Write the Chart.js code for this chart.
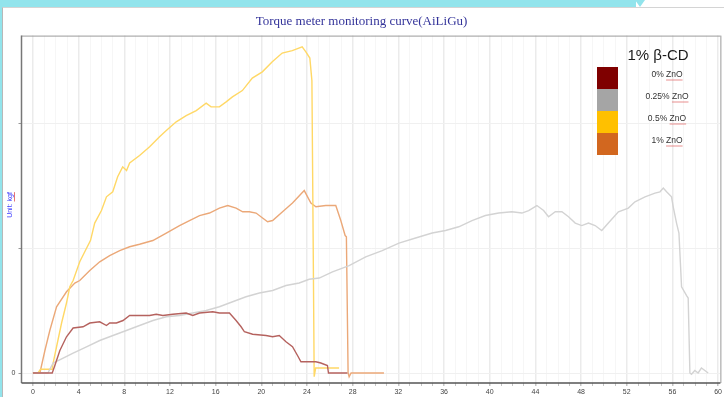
<!DOCTYPE html>
<html>
<head>
<meta charset="utf-8">
<title>Torque meter monitoring curve</title>
<script src="https://cdn.jsdelivr.net/npm/chart.js@4.4.1/dist/chart.umd.min.js"></script>
<style>
  html, body { margin: 0; padding: 0; width: 724px; height: 397px; overflow: hidden; background: #fff; }
  #frame-top { position: absolute; left: 0; top: 0; width: 636px; height: 7px; background: #92e4ec; }
  #frame-tri { position: absolute; left: 635px; top: 0; width: 0; height: 0;
               border-left: 5px solid transparent; border-right: 5px solid transparent; border-top: 7px solid #92e4ec; }
  #frame-left { position: absolute; left: 0; top: 0; width: 2px; height: 397px; background: #92e4ec; }
  #panel { position: absolute; left: 2px; top: 7px; right: 0; bottom: 0; background: #fff;
           border-left: 1px solid #b8b8b8; border-top: 1px solid #d4d4d4; }
  #chart { position: absolute; left: 0; top: 0; }
</style>
</head>
<body>
<div id="frame-top"></div>
<div id="frame-tri"></div>
<div id="frame-left"></div>
<div id="panel"></div>
<canvas id="chart" width="724" height="397"></canvas>
<script>
// ---- text ----
const chartTitle = 'Torque meter monitoring curve(AiLiGu)';
const yUnitLabel = 'Unit: kgf';
const legendTitle = '1% β-CD';
const seriesNames = ['0% ZnO', '0.25% ZnO', '0.5% ZnO', '1% ZnO'];

// ---- tick labels ----
const xTickValues = [0, 4, 8, 12, 16, 20, 24, 28, 32, 36, 40, 44, 48, 52, 56, 60];
const yTickValues = [0, 10, 20];
const yTickLabels = ['0', '', ''];

// ---- series: time (x) and torque (y) ----
const zno0X = [0,1.69,1.92,2.36,2.94,3.52,4.39,4.98,5.85,6.44,6.72,7.31,7.89,8.47,9.34,10.22,10.8,11.38,12.25,13.42,14.0,14.59,15.75,16.33,17.21,17.79,18.23,18.52,19.24,20.41,20.99,21.57,22.16,22.73,23.17,23.47,24.78,25.21,25.79,25.88,27.54];
const zno0Y = [0,0,0.6,1.8,2.9,3.6,3.7,4.0,4.1,3.8,4.0,4.0,4.2,4.6,4.6,4.6,4.7,4.6,4.7,4.8,4.6,4.8,4.9,4.8,4.8,4.2,3.7,3.3,3.1,3.0,2.9,3.0,2.5,2.1,1.4,0.9,0.9,0.8,0.6,0,0];

const zno025X = [0,1.31,1.77,2.65,3.52,4.69,5.85,7.01,8.18,9.34,10.51,11.68,12.84,14.0,15.17,16.33,17.49,18.66,19.83,20.99,22.16,23.32,24.19,25.07,26.23,27.69,29.14,30.59,32.05,33.51,34.96,36.13,37.29,38.45,39.62,40.79,41.95,42.82,43.41,44.13,44.72,45.15,45.74,46.32,46.9,47.49,48.06,48.65,49.23,49.81,50.39,51.27,52.14,52.72,53.6,54.47,54.91,55.2,55.49,55.92,56.07,56.36,56.57,56.8,57.24,57.38,57.53,57.67,57.96,58.25,58.54,58.84,59.13];
const zno025Y = [0,0,0.8,1.2,1.6,2.1,2.6,3.0,3.4,3.8,4.2,4.5,4.6,4.8,5.0,5.3,5.7,6.1,6.4,6.6,7.0,7.2,7.5,7.6,8.1,8.6,9.3,9.8,10.4,10.8,11.2,11.4,11.7,12.2,12.6,12.8,12.9,12.8,13.0,13.4,13.0,12.5,12.9,12.9,12.5,12.0,11.8,12.0,11.8,11.4,12.0,12.9,13.2,13.7,14.1,14.4,14.5,14.8,14.5,14.1,13.3,12.0,11.2,6.9,6.2,6.0,0,-0.1,0.2,0,0.4,0.2,0];

const zno05X = [0,0.44,0.67,1.69,1.77,2.07,2.51,2.94,3.23,3.52,4.1,4.54,5.04,5.41,6.0,6.44,6.99,7.42,7.86,8.2,8.47,9.34,10.22,11.09,11.68,12.55,13.42,14.3,15.17,15.6,16.33,16.92,17.47,18.34,19.21,20.09,20.96,21.83,22.71,23.58,23.9,24.25,24.43,24.54,24.63,24.76,26.81];
const zno05Y = [0,0,0.3,0.3,0.8,2.1,4.0,5.6,6.9,7.4,8.9,9.7,10.6,12.0,13.0,14.1,14.5,15.7,16.5,16.2,16.8,17.4,18.1,18.9,19.4,20.1,20.6,21.0,21.6,21.3,21.3,21.7,22.1,22.6,23.6,24.1,24.9,25.6,25.8,26.1,25.7,25.2,23.4,10.6,-0.3,0.4,0.4];

const zno1X = [0,0.61,1.05,1.48,2.07,2.94,3.67,4.1,4.98,5.85,6.72,7.6,8.47,9.34,10.5,11.68,12.84,13.71,14.59,15.46,16.33,17.06,17.79,18.37,18.95,19.54,20.11,20.55,20.99,21.86,22.73,23.76,24.34,24.78,25.65,26.52,26.96,27.34,27.45,27.6,27.69,27.86,30.74];
const zno1Y = [0,0,1.8,3.4,5.3,6.5,7.2,7.4,8.2,8.9,9.4,9.8,10.1,10.3,10.6,11.2,11.8,12.2,12.6,12.8,13.2,13.4,13.2,12.9,12.9,12.8,12.4,12.1,12.2,12.9,13.6,14.6,13.6,13.3,13.4,13.4,12.2,11.0,10.9,0,-0.3,0,0];

// ---- colours ----
const swatchColors = ['#7f0000', '#a5a5a5', '#ffc000', '#d2671f'];
const lineColors = ['#b5625e', '#d3d3d3', '#ffd866', '#eba878'];

const toPoints = (xs, ys) => xs.map((x, i) => ({ x: x, y: ys[i] }));
const seriesXY = [[zno0X, zno0Y], [zno025X, zno025Y], [zno05X, zno05Y], [zno1X, zno1Y]];

const datasets = seriesXY.map((s, i) => ({
  label: seriesNames[i],
  data: toPoints(s[0], s[1]),
  borderColor: lineColors[i],
  borderWidth: 1.4,
  pointRadius: 0,
  tension: 0,
  fill: false
}));

// plot frame, rotated unit label
const framePlugin = {
  id: 'frame',
  beforeDatasetsDraw(chart) {
    const { ctx, chartArea: a } = chart;
    ctx.save();
    ctx.lineWidth = 1;
    ctx.strokeStyle = '#9a9a9a';
    ctx.beginPath();
    ctx.moveTo(a.left, a.top + 0.5); ctx.lineTo(a.right, a.top + 0.5);
    ctx.moveTo(a.right + 0.5, a.top); ctx.lineTo(a.right + 0.5, a.bottom);
    ctx.stroke();
    ctx.lineWidth = 1.5;
    ctx.strokeStyle = '#777';
    ctx.beginPath();
    ctx.moveTo(a.left, a.top); ctx.lineTo(a.left, a.bottom);
    ctx.stroke();
    ctx.strokeStyle = '#555';
    ctx.beginPath();
    ctx.moveTo(a.left, a.bottom); ctx.lineTo(a.right, a.bottom);
    ctx.stroke();

    // unit label on the left
    ctx.translate(10, 205);
    ctx.rotate(-Math.PI / 2);
    ctx.font = '7px "Liberation Sans", Arial, sans-serif';
    ctx.fillStyle = '#3c3cff';
    ctx.textAlign = 'center';
    ctx.textBaseline = 'middle';
    ctx.fillText(yUnitLabel, 0, 0);
    const w = ctx.measureText(yUnitLabel).width;
    const wk = ctx.measureText('kgf').width;
    ctx.strokeStyle = '#e05050';
    ctx.lineWidth = 0.8;
    ctx.beginPath();
    ctx.moveTo(w / 2 - wk, 4.5); ctx.lineTo(w / 2, 4.5);
    ctx.stroke();
    ctx.restore();
  }
};

// legend block: title, colour swatches, labels
const legendPlugin = {
  id: 'swatchLegend',
  afterDatasetsDraw(chart) {
    const ctx = chart.ctx;
    ctx.save();
    ctx.fillStyle = '#1a1a1a';
    ctx.font = '15px "Liberation Sans", Arial, sans-serif';
    ctx.textAlign = 'center';
    ctx.textBaseline = 'middle';
    ctx.fillText(legendTitle, 658, 56);
    const boxX = 597, boxW = 21, boxTop = 67, boxH = 22;
    seriesNames.forEach((name, i) => {
      const y = boxTop + i * boxH;
      ctx.fillStyle = swatchColors[i];
      ctx.fillRect(boxX, y, boxW, boxH);
      ctx.fillStyle = '#333';
      ctx.font = '8.5px "Liberation Sans", Arial, sans-serif';
      ctx.textAlign = 'center';
      const cy = y + 8;
      ctx.fillText(name, 667, cy);
      const tw = ctx.measureText(name).width;
      const zw = ctx.measureText('ZnO').width;
      ctx.strokeStyle = '#e06060';
      ctx.lineWidth = 0.7;
      ctx.beginPath();
      ctx.moveTo(667 + tw / 2 - zw, cy + 5); ctx.lineTo(667 + tw / 2, cy + 5);
      ctx.stroke();
    });
    ctx.restore();
  }
};

new Chart(document.getElementById('chart'), {
  type: 'line',
  data: { datasets: datasets },
  options: {
    responsive: false,
    animation: false,
    layout: { padding: { left: 0, right: 1, top: 0, bottom: 0 } },
    plugins: {
      legend: { display: false },
      tooltip: { enabled: false },
      title: {
        display: true,
        text: chartTitle,
        color: '#34349a',
        font: { family: '"Liberation Serif", "DejaVu Serif", serif', size: 13, weight: 'normal' },
        padding: { top: 14, bottom: 6 }
      }
    },
    scales: {
      x: {
        type: 'linear',
        min: -1,
        max: 60.2,
        afterBuildTicks(axis) {
          const t = [];
          for (let v = 0; v <= 60; v++) t.push({ value: v });
          axis.ticks = t;
        },
        ticks: {
          autoSkip: false,
          maxRotation: 0,
          padding: 2,
          color: '#444',
          font: { family: '"Liberation Sans", Arial, sans-serif', size: 7 },
          callback: (v) => (xTickValues.includes(v) ? String(v) : '')
        },
        grid: {
          color: (c) => (c.tick && c.tick.value % 4 === 0 ? '#ebebeb' : '#f6f6f6'),
          lineWidth: (c) => (c.tick && c.tick.value % 4 === 0 ? 1.5 : 1),
          tickLength: 3,
          tickColor: '#c4c4c4'
        },
        border: { display: false },
        afterFit(scale) { scale.height = 14; }
      },
      y: {
        type: 'linear',
        min: -0.8,
        max: 27,
        afterBuildTicks(axis) {
          axis.ticks = yTickValues.map((v) => ({ value: v }));
        },
        ticks: {
          padding: 3,
          color: '#444',
          font: { family: '"Liberation Sans", Arial, sans-serif', size: 7 },
          callback: (v) => yTickLabels[yTickValues.indexOf(v)] || ''
        },
        grid: { color: '#f0f0f0', tickLength: 3, tickColor: '#999' },
        border: { display: false },
        afterFit(scale) { scale.width = 21.5; }
      }
    }
  },
  plugins: [framePlugin, legendPlugin]
});
</script>
</body>
</html>
